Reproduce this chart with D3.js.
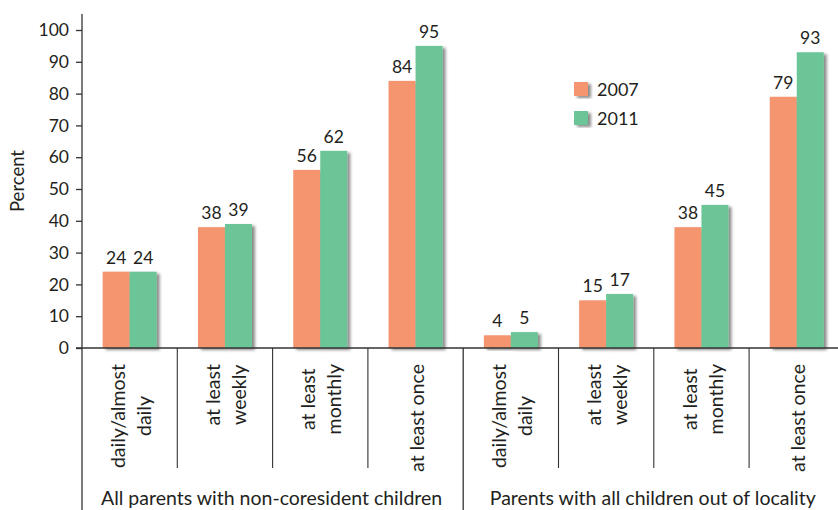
<!DOCTYPE html>
<html>
<head>
<meta charset="utf-8">
<script src="https://cdn.jsdelivr.net/npm/d3@7"></script>
<style>
  html, body { margin: 0; padding: 0; background: #fff; }
  svg { display: block; }
  text { font-family: Lato, "Open Sans", sans-serif; fill: #231f20; }
</style>
</head>
<body>
<svg id="chart" width="838" height="510"></svg>
<script>
const categories = [
  ["daily/almost", "daily"],
  ["at least", "weekly"],
  ["at least", "monthly"],
  ["at least once"],
  ["daily/almost", "daily"],
  ["at least", "weekly"],
  ["at least", "monthly"],
  ["at least once"]
];
const groups = ["All parents with non-coresident children", "Parents with all children out of locality"];
const seriesNames = ["2007", "2011"];
const values2007 = [24, 38, 56, 84, 4, 15, 38, 79];
const values2011 = [24, 39, 62, 95, 5, 17, 45, 93];
const yTicks = [0, 10, 20, 30, 40, 50, 60, 70, 80, 90, 100];
const yTitle = "Percent";

const colors = ["#F4956F", "#6CC596"];
const FS = 17;     // numbers
const FW = 19.5;   // words

const svg = d3.select("#chart");
const defs = svg.append("defs");
const f = defs.append("filter").attr("id", "shadow")
  .attr("x", "-30%").attr("y", "-10%").attr("width", "160%").attr("height", "130%");
f.append("feDropShadow").attr("dx", 3).attr("dy", 2).attr("stdDeviation", 1.8)
  .attr("flood-color", "#000").attr("flood-opacity", 0.45);

const x0 = 82, bandW = 95.3;
const x = d3.scaleBand().domain(d3.range(categories.length))
  .range([x0, x0 + bandW * categories.length]).paddingInner(0).paddingOuter(0);
const barW = 27;
const xs = d3.scaleBand().domain(seriesNames).range([-barW, barW]);
const y = d3.scaleLinear().domain([0, 100]).range([348, 30]);

// bars
const series = [values2007, values2011];
series.forEach((vals, si) => {
  const g = svg.append("g");
  g.selectAll("rect").data(vals).enter().append("rect")
    .attr("x", (d, i) => x(i) + x.bandwidth() / 2 + xs(seriesNames[si]))
    .attr("y", d => y(d))
    .attr("width", xs.bandwidth())
    .attr("height", d => y(0) - y(d))
    .attr("fill", colors[si])
    .attr("filter", "url(#shadow)");
});
// value labels
series.forEach((vals, si) => {
  svg.append("g").selectAll("text").data(vals).enter().append("text")
    .attr("x", (d, i) => x(i) + x.bandwidth() / 2 + xs(seriesNames[si]) + xs.bandwidth() / 2)
    .attr("y", d => y(d) - 8)
    .attr("text-anchor", "middle")
    .attr("font-size", FS + 0.5)
    .text(d => d);
});

// y axis
const yAxis = d3.axisLeft(y).tickValues(yTicks).tickSize(6).tickPadding(7);
const ga = svg.append("g").attr("transform", `translate(${x0},0)`).call(yAxis);
ga.select(".domain").remove();
ga.selectAll(".tick line").attr("stroke", "#333").attr("stroke-width", 1.3);
ga.selectAll(".tick text").attr("font-size", FS + 0.5).attr("font-family", "Lato, sans-serif").attr("fill", "#231f20");

// axis lines
const line = (x1, y1, x2, y2, w) => svg.append("line")
  .attr("x1", x1).attr("y1", y1).attr("x2", x2).attr("y2", y2)
  .attr("stroke", "#333").attr("stroke-width", w || 1.3);
line(x0, 14, x0, 510);
line(x0 - 6, y(0), 838, y(0));

// separators
d3.range(1, categories.length).forEach(i => {
  const xx = x(i);
  if (i === 4) line(xx, y(0), xx, 510);
  else line(xx, y(0), xx, 468, 1.1);
});

// category labels (rotated)
const labelTop = 364;
categories.forEach((lines, i) => {
  const cx = x(i) + x.bandwidth() / 2;
  const gap = 26;
  const g = svg.append("g");
  const texts = lines.map((t, li) => {
    const lx = cx + (li - (lines.length - 1) / 2) * gap;
    return g.append("text")
      .attr("font-size", FW)
      .attr("text-anchor", "middle")
      .attr("dy", "0.42em")
      .attr("data-lx", lx)
      .text(t);
  });
  const maxLen = d3.max(texts, t => t.node().getComputedTextLength());
  texts.forEach(t => {
    const lx = +t.attr("data-lx");
    t.attr("transform", `translate(${lx},${labelTop + maxLen / 2}) rotate(-90)`);
  });
});

// group labels
groups.forEach((gname, gi) => {
  const cx = (x(gi * 4) + x(gi * 4 + 3) + x.bandwidth()) / 2;
  svg.append("text").attr("x", cx - 1).attr("y", 505)
    .attr("text-anchor", "middle").attr("font-size", FW).text(gname);
});

// y title
svg.append("text")
  .attr("transform", `translate(24,181) rotate(-90)`)
  .attr("text-anchor", "middle").attr("font-size", FW - 1).text(yTitle);

// legend
const legend = svg.append("g");
seriesNames.forEach((s, i) => {
  const ly = 82 + i * 29;
  legend.append("rect").attr("x", 574).attr("y", ly).attr("width", 14).attr("height", 14)
    .attr("fill", colors[i]).attr("filter", "url(#shadow)");
  legend.append("text").attr("x", 597).attr("y", ly + 14).attr("font-size", FS + 1).text(s);
});
</script>
</body>
</html>
